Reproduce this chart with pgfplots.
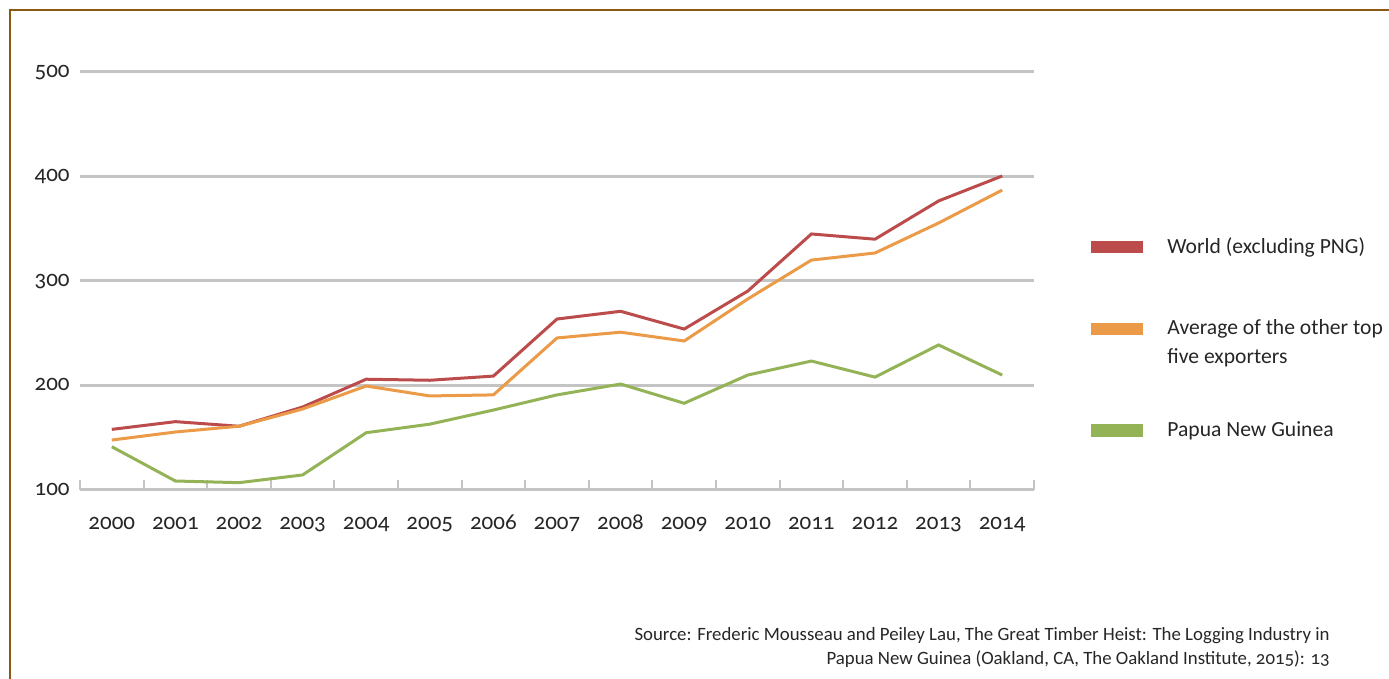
\documentclass[border=0pt]{standalone}
\usepackage{fontspec}
\setmainfont{Carlito}[Numbers=OldStyle]
\usepackage{pgfplots}
\pgfplotsset{compat=1.18}

\definecolor{worldred}{HTML}{BC4B4B}
\definecolor{avgorange}{HTML}{EB9A48}
\definecolor{pnggreen}{HTML}{94B356}
\definecolor{gridgray}{HTML}{C4C4C4}
\definecolor{framebrown}{HTML}{8C5A13}

\pgfplotstableread{
year world avg png
2000 158 147.8 141.4
2001 165.4 155.5 108.6
2002 161 161 107
2003 179.4 177.5 114.4
2004 206 199.5 154.8
2005 205 190 163
2006 209 191 176.5
2007 263.6 245.5 191
2008 271 251 201.4
2009 254 242.6 183
2010 290.4 282.8 210
2011 345 320 223.4
2012 340 326.8 208
2013 376.6 355.5 238.8
2014 400.5 387 210
}\prices

\begin{document}
\begin{tikzpicture}
\useasboundingbox (0,0) rectangle (694.5pt,339.5pt);
% frame
\draw[framebrown, line width=1pt] (5pt,0) -- (5pt,334.5pt) -- (694.5pt,334.5pt);

\begin{axis}[
    at={(40pt,94.5pt)}, anchor=south west,
    scale only axis,
    width=477pt, height=209pt,
    xmin=1999.5, xmax=2014.5,
    ymin=100, ymax=500,
    axis x line=bottom, axis y line=left,
    x axis line style={-, draw=gridgray, line width=1.5pt},
    y axis line style={draw=none},
    xtick={2000,...,2014},
    xticklabels={2000,2001,2002,2003,2004,2005,2006,2007,2008,2009,2010,2011,2012,2013,2014},
    minor xtick={1999.5,2000.5,...,2014.5},
    ytick={100,200,300,400,500},
    yticklabels={100,200,300,400,500},
    major tick length=0pt,
    minor tick length=5pt,
    xtick align=inside,
    minor tick style={gridgray, line width=1pt},
    ymajorgrids,
    grid style={gridgray, line width=1.5pt},
    tick label style={font=\fontsize{11.5}{13}\selectfont, text=black!85},
    xticklabel style={anchor=base, inner sep=0pt, yshift=-20pt},
    yticklabel style={anchor=base east, inner sep=0pt, xshift=-5pt, yshift=-2.7pt},
    clip=false,
]
\addplot[worldred, line width=1.5pt] table[x=year, y=world] {\prices};
\addplot[avgorange, line width=1.5pt] table[x=year, y=avg] {\prices};
\addplot[pnggreen, line width=1.5pt] table[x=year, y=png] {\prices};
\end{axis}

% legend
\fill[worldred] (545.3pt,212.85pt) rectangle (571.3pt,219.15pt);
\fill[avgorange] (545.3pt,172pt) rectangle (571.3pt,178.15pt);
\fill[pnggreen] (545.3pt,121.15pt) rectangle (571.3pt,127.5pt);
\begin{scope}[every node/.style={anchor=base west, inner sep=0pt, font=\fontsize{10.8}{12}\selectfont, text=black!85}]
\node at (583.5pt,212.85pt) {World (excluding PNG)};
\node at (583.5pt,172pt) {Average of the other top};
\node at (583.5pt,157.75pt) {five exporters};
\node at (583.5pt,121.15pt) {Papua New Guinea};
\end{scope}

% source
\begin{scope}[every node/.style={anchor=base east, inner sep=0pt, font=\fontsize{9.4}{10}\selectfont, text=black!85}]
\node at (665pt,19pt) {Source: Frederic Mousseau and Peiley Lau, The Great Timber Heist: The Logging Industry in};
\node at (665pt,7pt) {Papua New Guinea (Oakland, CA, The Oakland Institute, 2015): 13};
\end{scope}
\end{tikzpicture}
\end{document}
